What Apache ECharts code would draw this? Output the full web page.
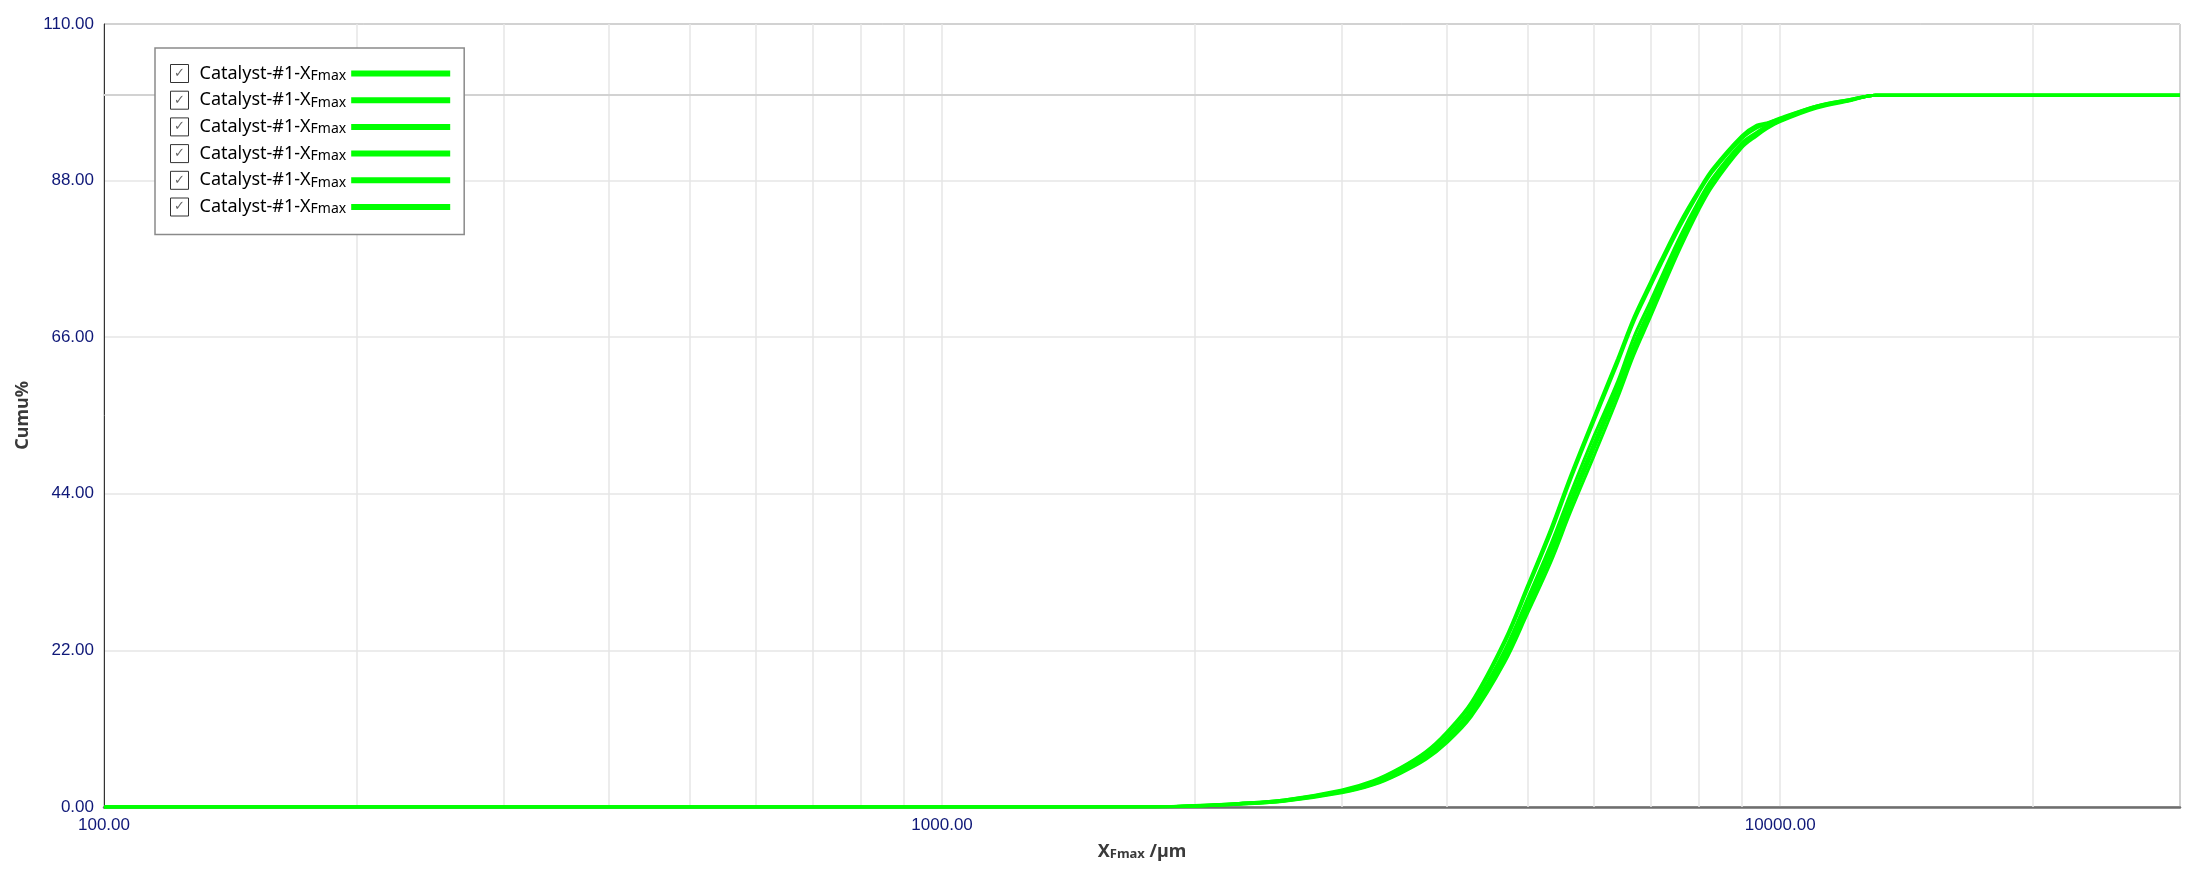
<!DOCTYPE html>
<html>
<head>
<meta charset="utf-8">
<script src="https://cdn.jsdelivr.net/npm/echarts@6/dist/echarts.min.js"></script>
<style>
html,body{margin:0;padding:0;background:#fff;}
#chart{width:2196px;height:881px;}
</style>
</head>
<body>
<div id="chart"></div>
<script>
// particle size (µm)
var sizes = [100, 1000, 1800, 2000, 2260, 2560, 3000, 3270, 3520, 3780, 4000, 4280, 4690, 5000, 5330, 5620, 6000, 6400, 6690, 7000, 7200, 7600, 8000, 8300, 9000, 9380, 9640, 10000, 11060, 12120, 13000, 30000];
// cumulative % for six measurements
var run1 = [0, 0, 0.05, 0.2, 0.5, 1.0, 2.4, 3.7, 5.5, 7.8, 10.5, 14.7, 23.4, 31.2, 39.2, 46.5, 54.9, 63.0, 68.8, 73.7, 76.7, 82.2, 86.7, 89.6, 94.3, 95.8, 96.1, 96.7, 98.5, 99.4, 100, 100];
var run2 = [0, 0, 0.05, 0.18, 0.5, 1.0, 2.3, 3.6, 5.4, 7.7, 10.3, 14.4, 23.0, 30.7, 38.6, 45.9, 54.3, 62.4, 68.2, 73.1, 76.1, 81.6, 86.3, 89.2, 93.9, 95.4, 96.0, 96.8, 98.5, 99.4, 100, 100];
var run3 = [0, 0, 0.05, 0.15, 0.45, 0.9, 2.2, 3.4, 5.1, 7.3, 9.8, 13.8, 22.0, 29.4, 37.0, 44.0, 52.2, 59.8, 66.0, 71.0, 74.2, 80.2, 85.2, 88.3, 93.3, 94.8, 95.7, 96.6, 98.4, 99.3, 100, 100];
var run4 = [0, 0, 0.04, 0.13, 0.4, 0.85, 2.1, 3.2, 4.8, 6.9, 9.3, 13.1, 20.9, 28.0, 35.4, 42.3, 50.4, 58.4, 64.3, 69.5, 72.8, 79.0, 84.3, 87.6, 92.8, 94.5, 95.4, 96.4, 98.3, 99.3, 100, 100];
var run5 = [0, 0, 0.05, 0.14, 0.42, 0.88, 2.15, 3.3, 5.0, 7.1, 9.6, 13.5, 21.5, 28.7, 36.2, 43.1, 51.2, 59.2, 65.0, 70.2, 73.5, 79.6, 84.7, 87.9, 93.0, 94.6, 95.5, 96.5, 98.3, 99.3, 100, 100];
var run6 = [0, 0, 0.04, 0.12, 0.38, 0.8, 2.0, 3.1, 4.7, 6.7, 9.0, 12.7, 20.3, 27.3, 34.5, 41.4, 49.4, 57.5, 63.5, 68.8, 72.2, 78.5, 83.9, 87.2, 92.6, 94.3, 95.3, 96.3, 98.2, 99.2, 100, 100];
var runs = [run1, run2, run3, run4, run5, run6];
var seriesLabel = 'Catalyst-#1-XFmax';
// minor log grid positions
var minorGrid = [200, 300, 400, 500, 600, 700, 800, 900, 2000, 3000, 4000, 5000, 6000, 7000, 8000, 9000, 20000];
var yTicks = { min: 0, max: 110, step: 22 };

var names = runs.map(function (r, i) { return seriesLabel + new Array(i + 1).join('\u200b'); });

var series = runs.map(function (r, i) {
  return {
    name: names[i],
    type: 'line',
    z: 5,
    smooth: 0.35,
    showSymbol: false,
    symbol: 'none',
    lineStyle: { color: '#00ff00', width: 3 },
    itemStyle: { color: '#00ff00' },
    data: sizes.map(function (s, k) { return [s, r[k]]; })
  };
});

var gridMarks = minorGrid.map(function (v) { return { xAxis: v }; });
gridMarks.push({ yAxis: 100, lineStyle: { color: '#d2d2d2', width: 2, type: 'solid' } });
series.unshift({
  name: 'grid',
  type: 'line',
  z: 1,
  data: [],
  markLine: {
    z: 1,
    silent: true,
    symbol: ['none', 'none'],
    label: { show: false },
    animation: false,
    lineStyle: { color: '#e6e6e6', width: 1.5, type: 'solid' },
    data: gridMarks
  }
});

var tickFont = "'Liberation Sans', Arial, sans-serif";

var chart = echarts.init(document.getElementById('chart'), null, { renderer: 'canvas' });
chart.setOption({
  animation: false,
  backgroundColor: '#ffffff',
  grid: {
    left: 104, right: 16, top: 24, bottom: 74,
    show: true, borderColor: '#333', borderWidth: 1, backgroundColor: 'transparent'
  },
  legend: {
    data: names.map(function (n) { return { name: n, icon: 'rect', itemStyle: { color: '#00ff00' } }; }),
    orient: 'vertical',
    left: 155,
    top: 48,
    z: 10,
    align: 'right',
    itemWidth: 99,
    itemHeight: 6,
    itemGap: 7.7,
    padding: [16, 14, 18, 15],
    backgroundColor: '#ffffff',
    borderColor: '#8a8a8a',
    borderWidth: 1.5,
    borderRadius: 0,
    selectedMode: false,
    formatter: function () {
      return '{cb|✓}{sp|}{t|Catalyst-#1-X}{s|Fmax}';
    },
    textStyle: {
      fontFamily: 'Noto Sans',
      color: '#000',
      rich: {
        cb: { width: 18, height: 18, lineHeight: 18, borderColor: '#333', borderWidth: 1, align: 'center', fontSize: 13, color: '#666', fontFamily: 'DejaVu Sans' },
        sp: { width: 11 },
        t: { fontSize: 18, lineHeight: 20, color: '#000', fontFamily: 'Noto Sans' },
        s: { fontSize: 14, lineHeight: 20, color: '#000', fontFamily: 'Noto Sans', padding: [5, 0, 0, 0] }
      }
    }
  },
  xAxis: {
    type: 'log',
    logBase: 10,
    min: 100,
    max: 30000,
    name: '{x|X}{s|Fmax}{x| /µm}',
    nameLocation: 'middle',
    nameGap: 36,
    nameTextStyle: {
      rich: {
        x: { fontSize: 18, fontWeight: 'bold', color: '#3a3a3a', fontFamily: 'Noto Sans' },
        s: { fontSize: 13, fontWeight: 'bold', color: '#3a3a3a', fontFamily: 'Noto Sans', padding: [4, 0, 0, 0] }
      }
    },
    axisLine: { show: true, lineStyle: { color: '#6e6e6e', width: 2.5 } },
    axisTick: { show: false },
    axisLabel: {
      margin: 10,
      fontSize: 17,
      color: '#0f1878',
      fontFamily: tickFont,
      showMaxLabel: false,
      formatter: function (v) {
        var l = Math.log10(v);
        if (Math.abs(l - Math.round(l)) > 1e-6) return '';
        return v.toFixed(2);
      }
    },
    splitLine: { show: true, lineStyle: { color: '#e6e6e6', width: 1.5 } }
  },
  yAxis: {
    type: 'value',
    min: yTicks.min,
    max: yTicks.max,
    interval: yTicks.step,
    name: 'Cumu%',
    nameLocation: 'middle',
    nameGap: 70,
    nameTextStyle: { fontSize: 18, fontWeight: 'bold', color: '#3a3a3a', fontFamily: 'Noto Sans' },
    axisLine: { show: true, lineStyle: { color: '#333', width: 1 } },
    axisTick: { show: false },
    axisLabel: {
      margin: 10,
      fontSize: 17,
      color: '#0f1878',
      fontFamily: tickFont,
      formatter: function (v) { return v.toFixed(2); }
    },
    splitLine: { show: true, lineStyle: { color: '#e6e6e6', width: 1.5 } }
  },
  series: series
});
</script>
</body>
</html>
